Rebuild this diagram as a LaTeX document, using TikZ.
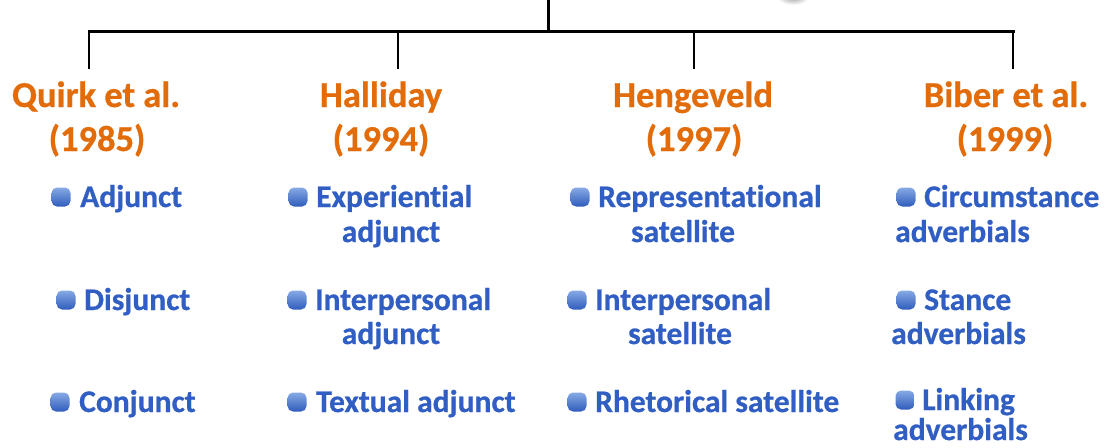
\documentclass[tikz,border=0pt]{standalone}
\usepackage{fontspec}
\setmainfont{Carlito}
\newfontfamily\heavyfont[FakeBold=0.7,Ligatures=NoCommon]{Carlito}
\definecolor{hdrorange}{RGB}{226,107,10}
\definecolor{itemblue}{RGB}{48,94,194}
\definecolor{bultop}{RGB}{135,170,228}
\definecolor{bulbot}{RGB}{48,92,188}
\begin{document}
\begin{tikzpicture}[x=1pt,y=-1pt,
  header/.style={text=hdrorange,font=\heavyfont\fontsize{36.5}{44}\selectfont\bfseries,inner sep=0pt,anchor=base},
  item/.style={text=itemblue,font=\heavyfont\fontsize{31.5}{38}\selectfont\bfseries,inner sep=0pt,anchor=base west},
  cont/.style={item,anchor=base},
  bullet/.style={draw=none,minimum size=19pt,inner sep=0pt,rounded corners=5.5pt,top color=bultop,bottom color=bulbot},
  tree/.style={line width=3pt,black,line cap=rect}]
\useasboundingbox (0,0) rectangle (1113,447);

% faint shadow peeking in at the top edge
\shade[inner color=gray!75,outer color=white] (793,-3) ellipse (16 and 8);

% tree connectors
\coordinate (root) at (548,0);
\coordinate (hub) at (548,31);
\coordinate (j1) at (89,31);
\coordinate (j2) at (398,31);
\coordinate (j3) at (694,31);
\coordinate (j4) at (1013,31);
\coordinate (d1) at (89,68);
\coordinate (d2) at (398,68);
\coordinate (d3) at (694,68);
\coordinate (d4) at (1013,68);
\draw[tree] (root) -- (hub);
\draw[tree] (j1) -- (j4);
\draw[tree,line width=2.6pt] (j1) -- (d1);
\draw[tree,line width=2.6pt] (j2) -- (d2);
\draw[tree,line width=2.6pt] (j3) -- (d3);
\draw[tree,line width=2.6pt] (j4) -- (d4);

% headers
\node[header] (h1) at (96,107) {Quirk et al.};
\node[header] (y1) at (97,151) {(1985)};
\node[header] (h2) at (381,107) {Halliday};
\node[header] (y2) at (381,151) {(1994)};
\node[header] (h3) at (693,107) {Hengeveld};
\node[header] (y3) at (694,151) {(1997)};
\node[header] (h4) at (1006,107) {Biber et al.};
\node[header] (y4) at (1005,151) {(1999)};

% Quirk et al.
\node[bullet] (b11) at (61,197) {};
\node[item] (t11) at (80,207) {Adjunct};
\node[bullet] (b12) at (66,300) {};
\node[item] (t12) at (84,310) {Disjunct};
\node[bullet] (b13) at (60,402) {};
\node[item] (t13) at (79,412) {Conjunct};

% Halliday
\node[bullet] (b21) at (298,197) {};
\node[item] (t21) at (316,207) {Experiential};
\node[cont] (t21b) at (391,242) {adjunct};
\node[bullet] (b22) at (297,300) {};
\node[item] (t22) at (315,310) {Interpersonal};
\node[cont] (t22b) at (391,344) {adjunct};
\node[bullet] (b23) at (297,402) {};
\node[item] (t23) at (316,412) {Textual adjunct};

% Hengeveld
\node[bullet] (b31) at (580,197) {};
\node[item] (t31) at (598,207) {Representational};
\node[cont] (t31b) at (683,242) {satellite};
\node[bullet] (b32) at (577,300) {};
\node[item] (t32) at (595,310) {Interpersonal};
\node[cont] (t32b) at (680,344) {satellite};
\node[bullet] (b33) at (577,402) {};
\node[item] (t33) at (595,412) {Rhetorical satellite};

% Biber et al.
\node[bullet] (b41) at (906,197) {};
\node[item] (t41) at (924,207) {Circumstance};
\node[item] (t41b) at (895,242) {adverbials};
\node[bullet] (b42) at (906,300) {};
\node[item] (t42) at (924,310) {Stance};
\node[item] (t42b) at (891,344) {adverbials};
\node[bullet] (b43) at (905,400) {};
\node[item] (t43) at (922,410) {Linking};
\node[item] (t43b) at (893,440) {adverbials};
\end{tikzpicture}
\end{document}
